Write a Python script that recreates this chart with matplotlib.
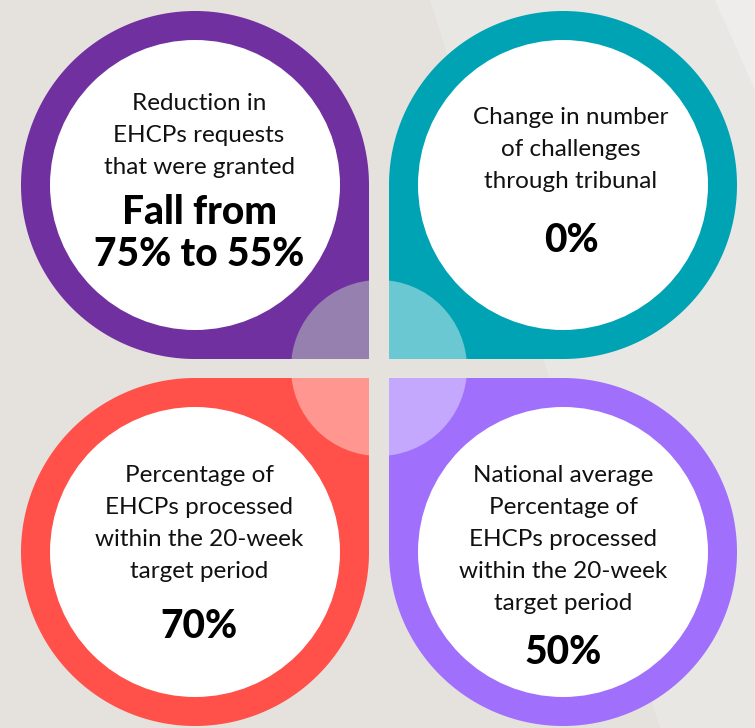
import matplotlib.pyplot as plt
import numpy as np
from matplotlib.patches import Polygon, Circle

# quatre "pétales" : libellés, valeurs, couleurs
labels = [
    ["Reduction in", "EHCPs requests", "that were granted"],
    ["Change in number", "of challenges", "through tribunal"],
    ["Percentage of", "EHCPs processed", "within the 20-week", "target period"],
    ["National average", "Percentage of", "EHCPs processed", "within the 20-week", "target period"],
]
values = [["Fall from", "75% to 55%"], ["0%"], ["70%"], ["50%"]]
ring_colors = ["#7030a0", "#00a3b4", "#ff504a", "#a070fc"]
center_colors = ["#9680b0", "#6ac8d2", "#ff9690", "#c4a8fe"]

# géométrie (pixels)
centers = [(195, 185), (563, 185), (195, 552), (563, 552)]
corner_angles = [45, 135, -45, -135]
R = 174
r_white = 145
hub = (379, 368)
r_hub = 88
first_line_y = [103, 117, 476, 476]
value_y = [[212, 255], [240], [626], [652]]
text_x = [199, 571, 199, 563]

bg = "#e5e2de"

fig = plt.figure(figsize=(7.55, 7.28), dpi=100)
fig.patch.set_facecolor(bg)
ax = fig.add_axes([0, 0, 1, 1])
ax.set_xlim(0, 755)
ax.set_ylim(728, 0)
ax.axis("off")
ax.set_facecolor(bg)

# fond : quelques bandes plus claires
ax.add_patch(Polygon([(430, 0), (755, 0), (755, 728), (660, 728)], closed=True,
                     facecolor="#e9e7e4", edgecolor="none", zorder=0))
ax.add_patch(Polygon([(715, 0), (755, 0), (755, 90)], closed=True,
                     facecolor="#eeedeb", edgecolor="none", zorder=0))

plt.rcParams['font.family'] = ['Lato', 'DejaVu Sans']

for i in range(4):
    cx, cy = centers[i]
    a0 = np.radians(corner_angles[i] + 45)
    a1 = np.radians(corner_angles[i] + 315)
    t = np.linspace(a0, a1, 300)
    pts = list(zip(cx + R * np.cos(t), cy + R * np.sin(t)))
    th = np.radians(corner_angles[i])
    pts.append((cx + R * np.sign(np.cos(th)), cy + R * np.sign(np.sin(th))))
    petal = Polygon(pts, closed=True, facecolor=ring_colors[i], edgecolor="none", zorder=1)
    ax.add_patch(petal)

    c = Circle(hub, r_hub, facecolor=center_colors[i], edgecolor="none", zorder=2)
    ax.add_patch(c)
    c.set_clip_path(petal)

    ax.add_patch(Circle((cx, cy), r_white, facecolor="white", edgecolor="none", zorder=3))

    for k, line in enumerate(labels[i]):
        ax.text(text_x[i], first_line_y[i] + 32 * k, line, ha="center", va="center",
                fontsize=17.5, color="#111111", zorder=4)
    for k, v in enumerate(values[i]):
        ax.text(text_x[i], value_y[i][k], v, ha="center", va="center",
                fontsize=28, fontweight="black", color="black", zorder=4)

fig.savefig("out.png", dpi=100, facecolor=bg)
